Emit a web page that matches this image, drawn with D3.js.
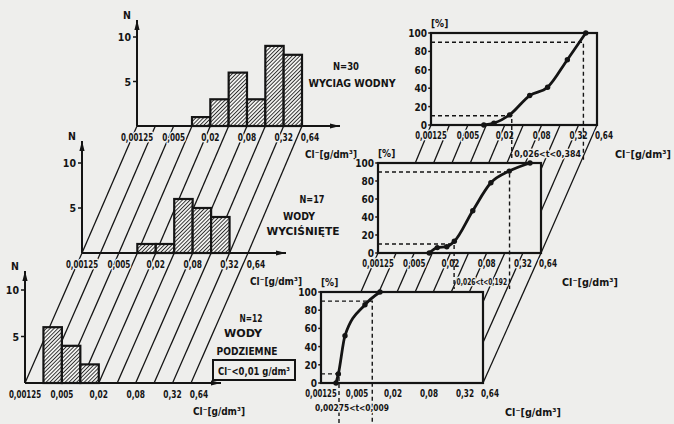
<!DOCTYPE html>
<html><head><meta charset="utf-8">
<script src="https://cdn.jsdelivr.net/npm/d3@7"></script>
<style>body{margin:0;background:#eeeeec}svg{display:block}</style>
</head><body><svg id="c" width="674" height="424"></svg>
<script>
// ---------------- DATA ----------------
const binEdges = [0.00125,0.0025,0.005,0.01,0.02,0.04,0.08,0.16,0.32,0.64];
const countsWyciag     = [0,0,0,1,3,6,3,9,8];   // N=30
const countsWycisniete = [0,0,0,1,1,6,5,4,0];   // N=17
const countsPodziemne  = [0,6,4,2,0,0,0,0,0];   // N=12
const xTickValues = [0.00125,0.005,0.02,0.08,0.32,0.64];
const xTickLabels = ["0,00125","0,005","0,02","0,08","0,32","0,64"];
const nTickValues = [5,10];
const pctTickValues = [0,20,40,60,80,100];

const cumConcWyciag = [0.0091,0.0133,0.024,0.051,0.10,0.21,0.42];
const cumPctWyciag  = [0,2,11,32,41,71,100];
const cumConcWycisniete = [0.0089,0.0121,0.0174,0.0232,0.047,0.094,0.19,0.42];
const cumPctWycisniete  = [0,6,7,13,47,78,91,100];
const cumConcPodziemne = [0.00223,0.00244,0.00315,0.0068,0.0121];
const cumPctPodziemne  = [0,10,52,86,100];

const quantWyciag = [0.026,0.384];
const quantWycisniete = [0.023,0.192];
const quantPodziemne = [0.0025,0.009];
const rangeLabels = ["0,026<t<0,384","0,026<t<0,192","0,00275<t<0,009"];
const sampleLabels = [["N=30","WYCIAG WODNY"],["N=17","WODY","WYCIŚNIĘTE"],["N=12","WODY","PODZIEMNE"]];
const unitLabel = "Cl\u207B[g/dm\u00B3]";
const boxLabel = "Cl\u207B<0,01 g/dm\u00B3";

// ---------------- LAYOUT ----------------
const planes = [
 {hx:137,hw:165,hy:126,h10:37, axTop:20, axRight:340,cx:431,cw:166,cy:125,c100:33, dashBottom:160,
  counts:countsWyciag,cc:cumConcWyciag,cp:cumPctWyciag,q:quantWyciag},
 {hx:82, hw:166,hy:253,h10:163,axTop:141,axRight:286,cx:378,cw:163,cy:253,c100:163,dashBottom:289,
  counts:countsWycisniete,cc:cumConcWycisniete,cp:cumPctWycisniete,q:quantWycisniete},
 {hx:25, hw:166,hy:383,h10:290,axTop:271,axRight:221,cx:321,cw:162,cy:383,c100:292,dashBottom:424,
  counts:countsPodziemne,cc:cumConcPodziemne,cp:cumPctPodziemne,q:quantPodziemne}
];
const BG="#eeeeec", INK="#141414";
const FONT="'DejaVu Sans Condensed','Liberation Sans Narrow','DejaVu Sans',sans-serif";
const dom=[binEdges[0],binEdges[binEdges.length-1]];
planes.forEach(p=>{
  p.xh=d3.scaleLog().domain(dom).range([p.hx,p.hx+p.hw]);
  p.yh=d3.scaleLinear().domain([0,10]).range([p.hy,p.h10]);
  p.xc=d3.scaleLog().domain(dom).range([p.cx,p.cx+p.cw]);
  p.yc=d3.scaleLinear().domain([0,100]).range([p.cy,p.c100]);
});

const svg=d3.select("#c");
svg.append("rect").attr("width",674).attr("height",424).attr("fill",BG);
const defs=svg.append("defs");
const pat=defs.append("pattern").attr("id","hatch").attr("patternUnits","userSpaceOnUse")
  .attr("width",2.7).attr("height",2.7).attr("patternTransform","rotate(45)");
pat.append("rect").attr("width",2.7).attr("height",2.7).attr("fill","#f0f0ee");
pat.append("line").attr("x1",0).attr("y1",0).attr("x2",0).attr("y2",2.7).attr("stroke",INK).attr("stroke-width",1.6);

function text(g,x,y,s,o={}){
  const t=g.append("text").attr("x",x).attr("y",y).text(s)
    .attr("font-family",FONT).attr("font-size",o.size||10).attr("fill",INK)
    .attr("font-weight",o.weight||"bold")
    .attr("text-anchor",o.anchor||"middle")
    .attr("stroke",BG).attr("stroke-width",o.halo===undefined?3:o.halo).attr("paint-order","stroke")
    .attr("stroke-linejoin","round");
  if(o.len){t.attr("textLength",o.len).attr("lengthAdjust","spacingAndGlyphs");}
  return t;
}
function arrow(g,x1,y1,x2,y2){
  g.append("line").attr("x1",x1).attr("y1",y1).attr("x2",x2).attr("y2",y2).attr("stroke",INK).attr("stroke-width",2);
  const a=Math.atan2(y2-y1,x2-x1),L=10,W=2.6;
  const bx=x2-L*Math.cos(a),by=y2-L*Math.sin(a);
  const nx=-Math.sin(a)*W,ny=Math.cos(a)*W;
  g.append("path").attr("d",`M${x2},${y2}L${bx+nx},${by+ny}L${bx-nx},${by-ny}Z`).attr("fill",INK);
}

// ---- oblique connector lines ----
const gLines=svg.append("g").attr("stroke",INK).attr("stroke-width",1.3);
for(let i=0;i<2;i++){
  const up=planes[i],lo=planes[i+1];
  binEdges.forEach(v=>{
    gLines.append("line").attr("x1",lo.xh(v)).attr("y1",lo.hy).attr("x2",up.xh(v)).attr("y2",up.hy);
    gLines.append("line").attr("x1",lo.xc(v)).attr("y1",lo.cy).attr("x2",up.xc(v)).attr("y2",up.cy);
  });
}

planes.forEach((p,pi)=>{
  const g=svg.append("g");
  // ---- histogram ----
  const bins=p.counts.map((n,i)=>({lo:binEdges[i],hi:binEdges[i+1],n})).filter(d=>d.n>0);
  g.selectAll("rect.bar").data(bins).join("rect").attr("class","bar")
    .attr("x",d=>p.xh(d.lo)).attr("width",d=>p.xh(d.hi)-p.xh(d.lo))
    .attr("y",d=>p.yh(d.n)).attr("height",d=>p.hy-p.yh(d.n))
    .attr("fill","url(#hatch)").attr("stroke",INK).attr("stroke-width",2.2);
  arrow(g,p.hx,p.hy,p.hx,p.axTop);
  arrow(g,p.hx,p.hy,p.axRight,p.hy);
  nTickValues.forEach(v=>{
    g.append("line").attr("x1",p.hx-4).attr("x2",p.hx).attr("y1",p.yh(v)).attr("y2",p.yh(v)).attr("stroke",INK).attr("stroke-width",1.5);
    text(g,p.hx-6,p.yh(v)+4,String(v),{anchor:"end",size:10.5});
  });
  text(g,p.hx-10,p.axTop-1,"N",{size:10.5});
  xTickValues.forEach((v,i)=>{
    text(g,p.xh(v)+(i===xTickValues.length-1?8:0),p.hy+15,xTickLabels[i],{size:10,len:xTickLabels[i].length*4.6});
  });
  text(g,p.hx+168,p.hy+32,unitLabel,{anchor:"start",size:10.5,len:52});

  // ---- cumulative frame ----
  g.append("rect").attr("x",p.cx).attr("y",p.c100).attr("width",p.cw).attr("height",p.cy-p.c100)
    .attr("fill",BG).attr("stroke",INK).attr("stroke-width",2.2);
  pctTickValues.forEach(v=>{
    g.append("line").attr("x1",p.cx-3).attr("x2",p.cx).attr("y1",p.yc(v)).attr("y2",p.yc(v)).attr("stroke",INK).attr("stroke-width",1.5);
    text(g,p.cx-4,p.yc(v)+4,String(v),{anchor:"end",size:10});
  });
  text(g,p.cx,p.c100-6,"[%]",{anchor:"start",size:10});
  xTickValues.forEach((v,i)=>{
    text(g,p.xc(v)+(i===xTickValues.length-1?7:0),p.cy+14,xTickLabels[i],{size:10,len:xTickLabels[i].length*4.5});
  });
  text(g,p.cx+184,p.cy+33,unitLabel,{anchor:"start",size:10.5,len:56});
  // dashed quantile lines
  const gd=g.append("g").attr("stroke",INK).attr("stroke-width",1.4).attr("stroke-dasharray","4,3").attr("fill","none");
  [[10,p.q[0]],[90,p.q[1]]].forEach(([pc,v])=>{
    gd.append("path").attr("d",`M${p.cx},${p.yc(pc)}H${p.xc(v)}V${p.dashBottom}`);
  });
  // range label
  const x10=p.xc(p.q[0]),x90=p.xc(p.q[1]);
  if(pi<2) text(g,(x10+x90)/2,p.cy+32,rangeLabels[pi],{size:9.5,len:x90-x10-5});
  else text(g,352,p.cy+28,rangeLabels[pi],{size:9.5,len:74});
  // curve
  const pts=p.cc.map((c,i)=>[p.xc(c),p.yc(p.cp[i])]);
  g.append("path").attr("d",d3.line().curve(d3.curveMonotoneX)(pts))
    .attr("fill","none").attr("stroke",INK).attr("stroke-width",2.8);
  g.selectAll("circle.pt").data(pts).join("circle").attr("class","pt")
    .attr("cx",d=>d[0]).attr("cy",d=>d[1]).attr("r",2.7).attr("fill",INK);
});

// ---- sample labels ----
const gT=svg.append("g");
text(gT,346,70,sampleLabels[0][0],{size:11,len:26});
text(gT,352,87,sampleLabels[0][1],{size:11,len:87});
text(gT,312,203,sampleLabels[1][0],{size:11,len:25});
text(gT,299,220,sampleLabels[1][1],{size:11,len:32});
text(gT,303,235,sampleLabels[1][2],{size:11,len:73});
text(gT,251,322,sampleLabels[2][0],{size:11,len:23});
text(gT,243,337,sampleLabels[2][1],{size:11,len:38});
text(gT,247,355,sampleLabels[2][2],{size:11,len:61});
gT.append("rect").attr("x",213).attr("y",360).attr("width",82).attr("height",20)
  .attr("fill",BG).attr("stroke",INK).attr("stroke-width",2);
text(gT,254,375,boxLabel,{size:10.5,len:72});
</script></body></html>
